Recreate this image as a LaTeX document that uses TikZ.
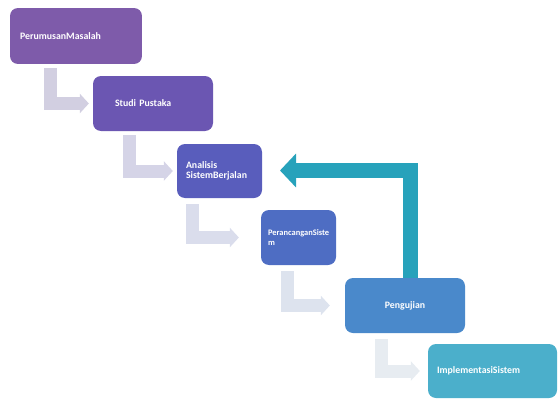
\documentclass[tikz,border=0pt]{standalone}
\usepackage{fontspec}
\setmainfont{Carlito}
\usetikzlibrary{calc,arrows.meta}

\definecolor{phaseA}{HTML}{7E5BAA}
\definecolor{phaseB}{HTML}{6B56B2}
\definecolor{phaseC}{HTML}{595DBC}
\definecolor{phaseD}{HTML}{4E6DC3}
\definecolor{phaseE}{HTML}{4A89CB}
\definecolor{phaseF}{HTML}{4BAFCB}
\definecolor{stepA}{HTML}{D2CFE1}
\definecolor{stepB}{HTML}{D5D4E7}
\definecolor{stepC}{HTML}{DADDEC}
\definecolor{stepD}{HTML}{DDE3EE}
\definecolor{stepE}{HTML}{E7ECF1}
\definecolor{feedback}{HTML}{27A2BB}

\begin{document}
\begin{tikzpicture}[x=0.05cm, y=-0.05cm,
  stage/.style={rounded corners=0.4cm, text=white, align=left, inner xsep=0.5cm,
    font=\fontsize{14}{15}\selectfont\bfseries},
  flow/.style={line width=0.65cm, -{Triangle[width=0.95cm,length=0.45cm]}}]
\useasboundingbox (0,0) rectangle (560,400);

% Tahapan
\node[stage, fill=phaseA, minimum width=6.6cm, minimum height=2.8cm, text width=5.6cm] (masalah) at (76,36) {PerumusanMasalah};
\node[stage, fill=phaseB, minimum width=6cm, minimum height=2.75cm, text width=3.8cm, inner xsep=1.1cm] (pustaka) at (153,103.5) {Studi Pustaka};
\node[stage, fill=phaseC, minimum width=4.25cm, minimum height=2.7cm, text width=3.35cm, inner xsep=0.45cm] (analisis) at (219.5,171) {Analisis\\SistemBerjalan};
\node[stage, fill=phaseD, minimum width=3.65cm, minimum height=2.75cm, text width=3.05cm, inner xsep=0.35cm,
  font=\fontsize{12}{14}\selectfont\bfseries] (rancang) at (298.5,237.5) {PerancanganSiste\\m};
\node[stage, fill=phaseE, minimum width=6cm, minimum height=2.75cm, text width=5cm, align=center] (uji) at (405,305.5) {Pengujian};
\node[stage, fill=phaseF, minimum width=6.45cm, minimum height=2.7cm, text width=5.55cm, inner xsep=0.45cm] (implementasi) at (492.5,371) {ImplementasiSistem};

% Panah antar tahap
\draw[flow, stepA, shorten >=0.2cm] ($(masalah.south west)+(40.5,4)$) |- (pustaka.west);
\draw[flow, stepB, shorten >=0.2cm] ($(pustaka.south west)+(36.5,4)$) |- (analisis.west);
\draw[flow, stepC, shorten >=1.1cm] ($(analisis.south west)+(16,6)$) |- (rancang.west);
\draw[flow, stepD, shorten >=0.75cm] ($(rancang.south west)+(27,6)$) |- (uji.west);
\draw[flow, stepE, shorten >=0.4cm] ($(uji.south west)+(36.5,6)$) |- (implementasi.west);

% Umpan balik
\coordinate (balik) at (280,170.5);
\draw[feedback, line width=0.75cm, -{Triangle[width=1.65cm,length=0.8cm]}] ($(uji.north west)+(66,0)$) |- (balik);

\end{tikzpicture}
\end{document}
